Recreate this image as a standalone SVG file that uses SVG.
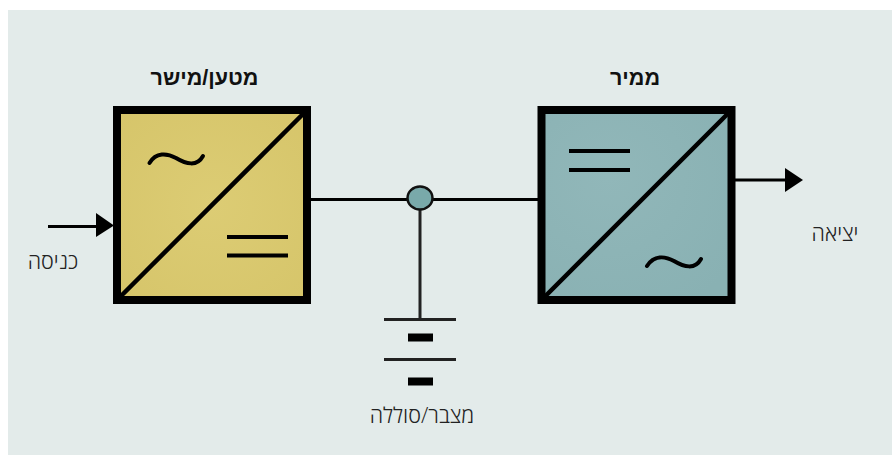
<svg xmlns="http://www.w3.org/2000/svg" width="892" height="455" viewBox="0 0 892 455">
<defs>
<radialGradient id="gy" cx="50%" cy="50%" r="70%"><stop offset="0" stop-color="#dccc74"/><stop offset="1" stop-color="#d6c56a"/></radialGradient>
<radialGradient id="gb" cx="35%" cy="35%" r="80%"><stop offset="0" stop-color="#91b7b9"/><stop offset="1" stop-color="#89b1b3"/></radialGradient>
</defs>
<style>
.box{stroke:#000;stroke-width:8}
.l{fill:none;stroke:#000;stroke-width:3}
.d{fill:none;stroke:#000;stroke-width:4.500}
.t{stroke:#222;stroke-width:3}
.w{fill:none;stroke:#000;stroke-width:4;stroke-linecap:round}
.e{fill:none;stroke:#000;stroke-width:4}
.lab{font-family:"Open Sans","Liberation Sans",sans-serif;font-size:21.500px;font-weight:300;fill:#222;text-anchor:middle}
.head{font-family:"Liberation Sans","DejaVu Sans",sans-serif;font-size:21.500px;font-weight:bold;fill:#111;text-anchor:middle}
</style>
<rect width="892" height="455" fill="#fff"/>
<rect x="8" y="10" width="884" height="445" fill="#e3ebea"/>
<g id="connectors">
<path class="l" d="M48 226.500H100"/>
<path fill="#000" d="M96 213L114 225.500L96 237Z"/>
<path class="l" d="M310 199.500H540"/>
<path class="t" d="M420 205V320"/>
<path class="l" d="M735 180H790"/>
<path fill="#000" d="M785 168L803 180L785 192Z"/>
</g>
<g id="converter">
<rect class="box" x="117" y="110" width="190" height="190" fill="url(#gy)"/>
<path class="d" d="M119 298L305 112"/>
<path class="w" d="M149.500 163C156 152 167 153 176 158C186 164 197 167 203 156"/>
<path class="e" d="M227 237H288M227 255.500H288"/>
<text class="head" x="204.500" y="85" direction="rtl">מטען/מישר</text>
</g>
<g id="inverter">
<rect class="box" x="541.500" y="110" width="190" height="190" fill="url(#gb)"/>
<path class="d" d="M543.500 298L729.500 112"/>
<path class="w" d="M647 266C654 255 665 256 674 261C684 267 695 270 701 259"/>
<path class="e" d="M569 151H630M569 170H630"/>
<text class="head" x="635" y="85" direction="rtl">ממיר</text>
</g>
<g id="junction">
<ellipse cx="420" cy="198" rx="12.500" ry="11.500" fill="#79a9aa" stroke="#111" stroke-width="2.500"/>
</g>
<g id="battery">
<path class="t" d="M384 319.500H456M384 359.500H456"/>
<rect x="408" y="333.500" width="25" height="8" fill="#000"/>
<rect x="408" y="377.500" width="25" height="8" fill="#000"/>
<text class="lab" x="422" y="423" direction="rtl">מצבר/סוללה</text>
</g>
<g id="input-label"><text class="lab" x="53" y="269" direction="rtl">כניסה</text></g>
<g id="output-label"><text class="lab" x="835" y="241" direction="rtl">יציאה</text></g>
</svg>
